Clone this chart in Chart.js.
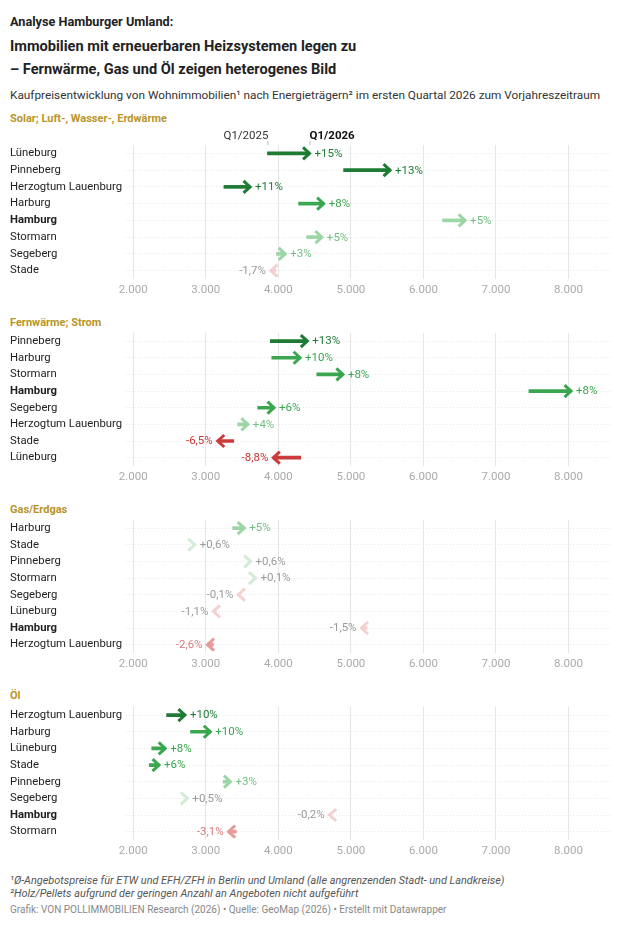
<!DOCTYPE html>
<html>
<head>
<meta charset="utf-8">
<script src="https://cdn.jsdelivr.net/npm/chart.js@4/dist/chart.umd.min.js"></script>
<style>
  body { margin: 0; background: #fff; font-family: Roboto, sans-serif; color: #222; }
  #wrap { position: relative; width: 630px; height: 925px; overflow: hidden; }
  .abs { position: absolute; left: 10px; white-space: nowrap; }
  .kicker { top: 14px; font-size: 12.7px; font-weight: bold; line-height: 16px; }
  .title { top: 35px; font-size: 14.6px; font-weight: bold; line-height: 23px; }
  .sub { top: 87px; font-size: 11.8px; line-height: 16px; color: #333; }
  .panel { font-size: 11px; font-weight: bold; color: #b8952a; line-height: 14px; }
  .note { font-size: 10.9px; font-style: italic; color: #555; line-height: 13px; }
  .credit { top: 903px; font-size: 10px; color: #888; line-height: 14px; }
  canvas { position: absolute; left: 0; }
</style>
</head>
<body>
<div id="wrap">
  <div class="abs kicker">Analyse Hamburger Umland:</div>
  <div class="abs title">Immobilien mit erneuerbaren Heizsystemen legen zu<br>– Fernwärme, Gas und Öl zeigen heterogenes Bild</div>
  <div class="abs sub">Kaufpreisentwicklung von Wohnimmobilien¹ nach Energieträgern² im ersten Quartal 2026 zum Vorjahreszeitraum</div>

  <div class="abs panel" style="top:112px">Solar; Luft-, Wasser-, Erdwärme</div>
  <canvas id="c1" width="630" height="176" style="top:127px"></canvas>

  <div class="abs panel" style="top:316px">Fernwärme; Strom</div>
  <canvas id="c2" width="630" height="164" style="top:326px"></canvas>

  <div class="abs panel" style="top:503px">Gas/Erdgas</div>
  <canvas id="c3" width="630" height="164" style="top:513px"></canvas>

  <div class="abs panel" style="top:689px">Öl</div>
  <canvas id="c4" width="630" height="164" style="top:700px"></canvas>

  <div class="abs note" style="top:874px">¹Ø-Angebotspreise für ETW und EFH/ZFH in Berlin und Umland (alle angrenzenden Stadt- und Landkreise)</div>
  <div class="abs note" style="top:887px">²Holz/Pellets aufgrund der geringen Anzahl an Angeboten nicht aufgeführt</div>
  <div class="abs credit">Grafik: VON POLLIMMOBILIEN Research (2026) • Quelle: GeoMap (2026) • Erstellt mit Datawrapper</div>
</div>

<script>
// Solar; Luft-, Wasser-, Erdwärme
const solarNames = ["Lüneburg", "Pinneberg", "Herzogtum Lauenburg", "Harburg", "Hamburg", "Stormarn", "Segeberg", "Stade"];
const solar2025 = [3850, 4900, 3250, 4280, 6265, 4390, 3975, 3965];
const solar2026 = [4430, 5540, 3610, 4625, 6575, 4600, 4095, 3898];
const solarChange = [15, 13, 11, 8, 5, 5, 3, -1.7];

// Fernwärme; Strom
const fernNames = ["Pinneberg", "Harburg", "Stormarn", "Hamburg", "Segeberg", "Herzogtum Lauenburg", "Stade", "Lüneburg"];
const fern2025 = [3890, 3910, 4530, 7455, 3715, 3440, 3385, 4310];
const fern2026 = [4400, 4300, 4890, 8035, 3940, 3580, 3165, 3931];
const fernChange = [13, 10, 8, 8, 6, 4, -6.5, -8.8];

// Gas/Erdgas
const gasNames = ["Harburg", "Stade", "Pinneberg", "Stormarn", "Segeberg", "Lüneburg", "Hamburg", "Herzogtum Lauenburg"];
const gas2025 = [3370, 2830, 3595, 3680, 3452, 3140, 5225, 3105];
const gas2026 = [3530, 2847, 3617, 3684, 3449, 3105, 5147, 3024];
const gasChange = [5, 0.6, 0.6, 0.1, -0.1, -1.1, -1.5, -2.6];

// Öl
const oilNames = ["Herzogtum Lauenburg", "Harburg", "Lüneburg", "Stade", "Pinneberg", "Segeberg", "Hamburg", "Stormarn"];
const oil2025 = [2460, 2790, 2255, 2220, 3240, 2732, 4716, 3420];
const oil2026 = [2712, 3062, 2440, 2355, 3340, 2746, 4707, 3314];
const oilChange = [10, 10, 8, 6, 3, 0.5, -0.2, -3.1];

const xTicks = [2000, 3000, 4000, 5000, 6000, 7000, 8000];

// colour by relative change: [arrow, label]
const colorFor = (from, to) => {
    const p = (to / from - 1) * 100;
    if (p >= 10) return ["#1e7b34", "#1e7b34"];
    if (p >= 5.5) return ["#3aa64f", "#3aa64f"];
    if (p >= 2) return ["#9dd6a6", "#74bf84"];
    if (p >= 0) return ["#d3ecd7", "#9a9a9a"];
    if (p >= -2) return ["#f5d0d0", "#9a9a9a"];
    if (p >= -5) return ["#e79a9a", "#d77c7c"];
    return ["#cc3b3b", "#c43535"];
};

const fmt = v => (v > 0 ? "+" : "") + v.toLocaleString("de-DE") + "%";

const makeChart = (id, names, from, to, change, topPad, showQ) => {
    const arrows = {
        id: "arrows",
        afterDatasetsDraw(chart) {
            const ctx = chart.ctx;
            const x = chart.scales.x, y = chart.scales.y;
            ctx.save();
            from.forEach((v, i) => {
                const x1 = x.getPixelForValue(to[i]);
                const yy = y.getPixelForValue(i);
                const dir = to[i] >= v ? 1 : -1;
                const col = colorFor(v, to[i]);
                ctx.strokeStyle = col[0];
                ctx.lineWidth = 3;
                ctx.lineJoin = "miter";
                ctx.lineCap = "butt";
                ctx.beginPath();
                ctx.moveTo(x1 - dir * 6.5, yy - 6);
                ctx.lineTo(x1, yy);
                ctx.lineTo(x1 - dir * 6.5, yy + 6);
                ctx.stroke();
                ctx.fillStyle = col[1];
                ctx.font = "11.5px Roboto";
                ctx.textBaseline = "middle";
                ctx.textAlign = dir > 0 ? "left" : "right";
                ctx.fillText(fmt(change[i]), x1 + dir * 5, yy + 0.5);
            });
            if (showQ) {
                const a = x.getPixelForValue(from[0]);
                const b = x.getPixelForValue(to[0]);
                const t = chart.chartArea.top;
                ctx.strokeStyle = "#bbb";
                ctx.lineWidth = 1;
                ctx.beginPath();
                ctx.moveTo(a + 0.5, t - 4); ctx.lineTo(a + 0.5, t);
                ctx.moveTo(b + 0.5, t - 4); ctx.lineTo(b + 0.5, t);
                ctx.stroke();
                ctx.textBaseline = "middle";
                ctx.fillStyle = "#333";
                ctx.font = "11.5px Roboto";
                ctx.textAlign = "right";
                ctx.fillText("Q1/2025", a + 1, t - 9);
                ctx.fillStyle = "#111";
                ctx.font = "bold 11.5px Roboto";
                ctx.textAlign = "left";
                ctx.fillText("Q1/2026", b, t - 9);
            }
            ctx.restore();
        }
    };

    new Chart(document.getElementById(id), {
        type: "bar",
        data: {
            labels: names,
            datasets: [{
                data: from.map((v, i) => [v, to[i]]),
                backgroundColor: from.map((v, i) => colorFor(v, to[i])[0]),
                borderWidth: 0,
                borderSkipped: false,
                barThickness: 3
            }]
        },
        options: {
            indexAxis: "y",
            responsive: false,
            animation: false,
            devicePixelRatio: 1,
            layout: { padding: { top: topPad, left: 10, right: 18, bottom: 2 } },
            plugins: { legend: { display: false }, tooltip: { enabled: false } },
            scales: {
                x: {
                    type: "linear",
                    min: 1900,
                    max: 8600,
                    afterFit: s => { s.height = 22; },
                    afterBuildTicks: s => { s.ticks = xTicks.map(v => ({ value: v })); },
                    grid: { color: "#e6e6e6", drawTicks: false },
                    border: { display: false },
                    ticks: {
                        padding: 4,
                        color: "#aaa",
                        font: { family: "Roboto", size: 11.5 },
                        callback: v => v.toLocaleString("de-DE")
                    }
                },
                y: {
                    afterFit: s => { s.width = 116; },
                    grid: { offset: false, color: "#e8e8e8", drawTicks: false },
                    border: { display: false, dash: [1, 2] },
                    ticks: {
                        autoSkip: false,
                        crossAlign: "far",
                        padding: 0,
                        color: "#222",
                        font: c => ({
                            family: "Roboto",
                            size: 11.3,
                            weight: names[c.index] === "Hamburg" ? "bold" : "normal"
                        })
                    }
                }
            }
        },
        plugins: [arrows]
    });
};

makeChart("c1", solarNames, solar2025, solar2026, solarChange, 18, true);
makeChart("c2", fernNames, fern2025, fern2026, fernChange, 6, false);
makeChart("c3", gasNames, gas2025, gas2026, gasChange, 6, false);
makeChart("c4", oilNames, oil2025, oil2026, oilChange, 6, false);
</script>
</body>
</html>
